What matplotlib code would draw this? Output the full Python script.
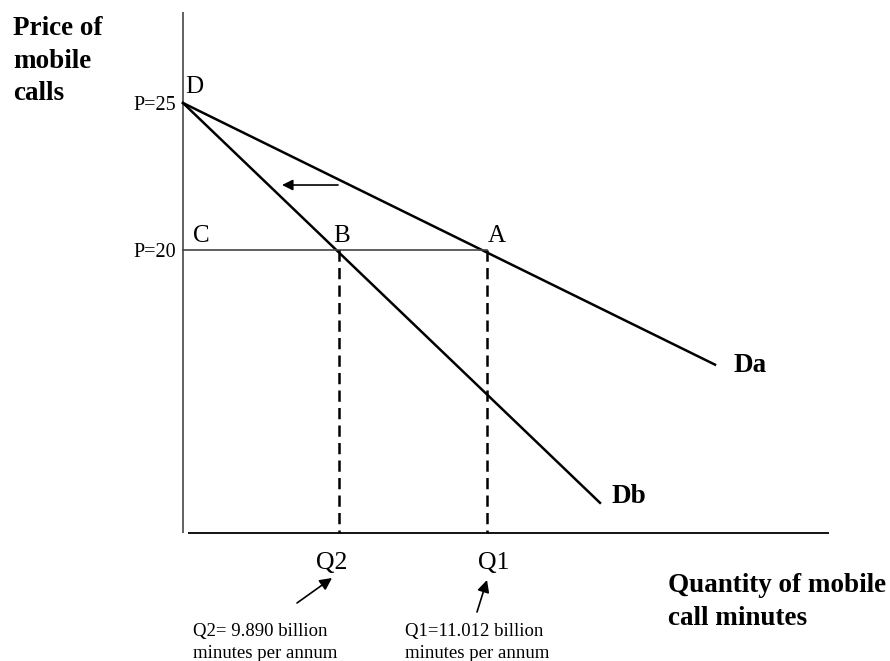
import matplotlib.pyplot as plt

# demand diagram: quantity in chart units, price as labelled
price_levels = [25, 20]
price_labels = ["P=25", "P=20"]

q_labels = ["Q2", "Q1"]
q_values = [15.6, 30.4]
q_notes = [["Q2= 9.890 billion", "minutes per annum"],
           ["Q1=11.012 billion", "minutes per annum"]]

da_q = [0, 53.2]
da_p = [25, 16.1]
db_q = [0, 41.7]
db_p = [25, 11.4]

W, H = 890, 661
fig = plt.figure(figsize=(W / 100, H / 100), dpi=100)
plt.rcParams["font.family"] = ["Liberation Serif", "DejaVu Serif"]

ax = fig.add_axes([0, 0, 1, 1])
ax.set_xlim(-18.3, 70.7)
ax.set_ylim(6.02, 28.503)
ax.set_axis_off()

p_floor = 10.39
p_top = 28.1
q_end = 64.6


def fp(x, y):
    # pixel position -> figure fraction
    return x / W, 1 - y / H


# axes
ax.plot([0, 0], [p_floor, p_top], color="#555555", lw=1.3, solid_capstyle="butt")
ax.plot([0.5, q_end], [p_floor - 0.03, p_floor - 0.03], color="black", lw=1.3,
        solid_capstyle="butt")

# demand curves
ax.plot(da_q, da_p, color="black", lw=1.8)
ax.plot(db_q, db_p, color="black", lw=1.8)

# price line at P=20 up to Q1
ax.plot([0, q_values[1]], [price_levels[1], price_levels[1]], color="#444444", lw=1.2)

# dashed drops
for q in q_values:
    ax.plot([q, q], [price_levels[1], p_floor], color="black", lw=1.8,
            linestyle=(0, (4.5, 2.5)))

# price labels
for p, lab in zip(price_levels, price_labels):
    ax.annotate(lab, (0, p), xytext=(-7, -7), textcoords="offset pixels",
                ha="right", va="baseline", fontsize=14.5)

# point labels
fig.text(*fp(185, 93), "D", fontsize=18, va="baseline")
fig.text(*fp(193, 242), "C", fontsize=18, va="baseline")
fig.text(*fp(333, 242), "B", fontsize=18, va="baseline")
fig.text(*fp(488, 242), "A", fontsize=18, va="baseline")

# curve labels
fig.text(*fp(733, 372), "Da", fontsize=19.5, weight="bold", va="baseline")
fig.text(*fp(611, 503), "Db", fontsize=19.5, weight="bold", va="baseline")

# shift arrow
ax.annotate("", xy=(9.9, 22.21), xytext=(15.5, 22.21),
            arrowprops=dict(arrowstyle="-|>", color="black", lw=1.2,
                            mutation_scale=16, shrinkA=0, shrinkB=0))

# quantity labels, notes and pointers
label_x = [332, 494]
note_x = [193, 405]
arrows = [((297, 603), (332, 578)), ((477, 612), (487, 580))]
for lab, lx, note, nx, (a0, a1) in zip(q_labels, label_x, q_notes, note_x, arrows):
    fig.text(*fp(lx, 569), lab, fontsize=18.5, ha="center", va="baseline")
    fig.text(*fp(nx, 636), note[0], fontsize=13.5, va="baseline")
    fig.text(*fp(nx, 658), note[1], fontsize=13.5, va="baseline")
    fig.add_artist(plt.matplotlib.patches.FancyArrowPatch(
        fp(*a0), fp(*a1), transform=fig.transFigure, arrowstyle="-|>",
        mutation_scale=18, color="black", lw=1.2, shrinkA=0, shrinkB=0))

# axis titles
for txt, y in zip(["Price of", "mobile", "calls"], [35, 68, 100]):
    fig.text(*fp(13, y), txt, fontsize=19.5, weight="bold", va="baseline")
for txt, y in zip(["Quantity of mobile", "call minutes"], [592, 625]):
    fig.text(*fp(668, y), txt, fontsize=19.5, weight="bold", va="baseline")

fig.savefig("out.png", dpi=100)
